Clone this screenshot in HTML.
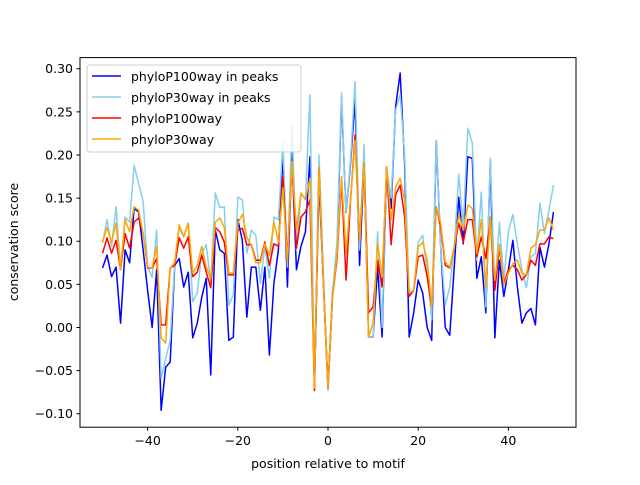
<!DOCTYPE html>
<html><head><meta charset="utf-8"><style>
body{margin:0;background:#fff}
svg text{font-family:"DejaVu Sans","Liberation Sans",sans-serif;font-size:12.5px;fill:#000}
</style></head><body>
<svg id="chart" width="640" height="480" xmlns="http://www.w3.org/2000/svg">
<rect width="640" height="480" fill="#fff"/>
<g id="series"></g>
<rect x="80" y="57.6" width="496" height="369.6" fill="none" stroke="#000" stroke-width="1"/>
<g id="xticks"></g><g id="yticks"></g>
<text x="328" y="468" text-anchor="middle">position relative to motif</text>
<text transform="translate(18,242) rotate(-90)" text-anchor="middle">conservation score</text>
<g>
<rect x="87" y="65" width="214" height="87" rx="3" fill="#fff" fill-opacity="0.8" stroke="#ccc"/>
<line x1="92" y1="76" x2="121" y2="76" stroke="#0000ff" stroke-width="1.5"/>
<text x="131" y="81">phyloP100way in peaks</text>
<line x1="92" y1="97" x2="121" y2="97" stroke="#87ceeb" stroke-width="1.5"/>
<text x="131" y="102">phyloP30way in peaks</text>
<line x1="92" y1="118" x2="121" y2="118" stroke="#ff0000" stroke-width="1.5"/>
<text x="131" y="123">phyloP100way</text>
<line x1="92" y1="139" x2="121" y2="139" stroke="#ffa500" stroke-width="1.5"/>
<text x="131" y="144">phyloP30way</text>
</g>
</svg>
<script>
const positions = Array.from({length:101},(_,i)=>i-50);
const blueVals = [0.069,0.084,0.059,0.070,0.005,0.090,0.075,0.138,0.134,0.09,
0.043,0.0,0.067,-0.096,-0.046,-0.04,0.072,0.08,0.047,0.064,
-0.012,0.005,0.035,0.057,-0.055,0.113,0.09,0.086,-0.015,-0.011,
0.125,0.101,0.012,0.07,0.07,0.02,0.07,-0.032,0.051,0.09,
0.202,0.047,0.203,0.067,0.094,0.111,0.198,-0.07,0.17,0.05,
-0.072,0.04,0.09,0.267,0.133,0.19,0.264,0.072,0.19,-0.011,
-0.011,0.07,-0.011,0.186,0.138,0.256,0.295,0.19,-0.011,0.017,
0.055,0.04,0.0,-0.015,0.217,0.093,0.0,-0.009,0.07,0.151,
0.097,0.198,0.196,0.057,0.082,0.017,0.194,-0.012,0.078,0.036,
0.067,0.101,0.047,0.005,0.017,0.022,0.003,0.093,0.07,0.097,0.134];
const skyVals = [0.098,0.125,0.094,0.14,0.067,0.128,0.122,0.188,0.167,0.146,
0.07,0.058,0.113,-0.059,-0.036,-0.015,0.075,0.115,0.105,0.121,
0.03,0.04,0.086,0.096,0.051,0.156,0.139,0.14,0.026,0.038,
0.151,0.148,0.086,0.113,0.107,0.051,0.094,0.057,0.128,0.125,
0.215,0.07,0.235,0.09,0.154,0.15,0.27,-0.07,0.2,0.06,
-0.072,0.04,0.1,0.272,0.133,0.194,0.285,0.09,0.212,-0.011,
-0.011,0.111,0.0,0.186,0.15,0.252,0.27,0.2,0.036,0.043,
0.099,0.107,0.063,0.009,0.217,0.093,0.026,0.047,0.093,0.178,
0.117,0.231,0.214,0.078,0.157,0.024,0.196,0.043,0.122,0.055,
0.111,0.131,0.097,0.067,0.046,0.082,0.086,0.144,0.109,0.136,0.165];
const redVals = [0.086,0.104,0.086,0.101,0.067,0.109,0.092,0.122,0.127,0.109,
0.069,0.069,0.08,0.003,0.003,0.069,0.072,0.104,0.092,0.105,
0.059,0.064,0.084,0.064,0.046,0.116,0.111,0.099,0.061,0.061,
0.113,0.115,0.096,0.096,0.078,0.078,0.099,0.072,0.097,0.094,
0.175,0.078,0.19,0.092,0.128,0.134,0.148,-0.073,0.185,0.05,
-0.07,0.035,0.08,0.171,0.055,0.148,0.223,0.101,0.19,0.017,
0.024,0.078,0.047,0.186,0.096,0.154,0.165,0.128,0.036,0.043,
0.082,0.084,0.059,0.024,0.14,0.117,0.072,0.069,0.093,0.121,
0.099,0.125,0.125,0.082,0.105,0.08,0.125,0.043,0.093,0.051,
0.067,0.072,0.067,0.055,0.061,0.078,0.072,0.097,0.097,0.105,0.103];
const orangeVals = [0.099,0.116,0.099,0.121,0.067,0.125,0.111,0.14,0.136,0.109,
0.07,0.069,0.094,-0.012,-0.018,0.069,0.075,0.119,0.105,0.121,
0.063,0.072,0.094,0.07,0.057,0.122,0.127,0.116,0.063,0.063,
0.121,0.131,0.105,0.095,0.075,0.075,0.097,0.084,0.122,0.099,
0.162,0.076,0.192,0.113,0.156,0.148,0.173,-0.07,0.185,0.05,
-0.07,0.035,0.085,0.175,0.086,0.15,0.217,0.099,0.19,-0.011,
0.005,0.097,0.059,0.186,0.125,0.163,0.173,0.148,0.04,0.043,
0.093,0.099,0.078,0.024,0.14,0.121,0.076,0.07,0.093,0.131,
0.113,0.142,0.138,0.086,0.125,0.047,0.128,0.055,0.097,0.049,
0.063,0.074,0.078,0.063,0.061,0.092,0.096,0.113,0.113,0.127,0.113];
const xTickVals = [-40,-20,0,20,40];
const xTickLabels = ["\u221240","\u221220","0","20","40"];
const yTickVals = [-0.10,-0.05,0.00,0.05,0.10,0.15,0.20,0.25,0.30];
const yTickLabels = ["\u22120.10","\u22120.05","0.00","0.05","0.10","0.15","0.20","0.25","0.30"];

const NS="http://www.w3.org/2000/svg";
const X0=80,X1=576,Y0=57.6,Y1=427.2;
const xMin=-55,xMax=55,yMin=-0.1156,yMax=0.3129;
function xs(v){return X0+(v-xMin)/(xMax-xMin)*(X1-X0);}
function ys(v){return Y1-(v-yMin)/(yMax-yMin)*(Y1-Y0);}

const series=[["phylop100-peaks-line",blueVals,"#0000ff"],["phylop30-peaks-line",skyVals,"#87ceeb"],["phylop100-line",redVals,"#ff0000"],["phylop30-line",orangeVals,"#ffa500"]];
const sg=document.getElementById('series');
series.forEach(s=>{
  const p=document.createElementNS(NS,'polyline');
  
  
  p.setAttribute('points',s[1].map((v,i)=>xs(positions[i]).toFixed(2)+','+ys(v).toFixed(2)).join(' '));
  p.setAttribute('fill','none');p.setAttribute('stroke',s[2]);p.setAttribute('stroke-width','1.5');
  p.setAttribute('stroke-linejoin','round');
  sg.appendChild(p);
});
const xg=document.getElementById('xticks');
xTickVals.forEach((v,i)=>{
  const l=document.createElementNS(NS,'line');
  
  
  l.setAttribute('x1',xs(v));l.setAttribute('x2',xs(v));l.setAttribute('y1',Y1);l.setAttribute('y2',Y1+3.5);l.setAttribute('stroke','#000');
  xg.appendChild(l);
  const t=document.createElementNS(NS,'text');
  
  
  t.setAttribute('x',xs(v));t.setAttribute('y',Y1+18);t.setAttribute('text-anchor','middle');
  t.textContent=xTickLabels[i];xg.appendChild(t);
});
const yg=document.getElementById('yticks');
yTickVals.forEach((v,i)=>{
  const l=document.createElementNS(NS,'line');
  
  
  l.setAttribute('x1',X0-3.5);l.setAttribute('x2',X0);l.setAttribute('y1',ys(v));l.setAttribute('y2',ys(v));l.setAttribute('stroke','#000');
  yg.appendChild(l);
  const t=document.createElementNS(NS,'text');
  
  
  t.setAttribute('x',X0-7);t.setAttribute('y',ys(v)+4.5);t.setAttribute('text-anchor','end');
  t.textContent=yTickLabels[i];yg.appendChild(t);
});
</script>
</body></html>
